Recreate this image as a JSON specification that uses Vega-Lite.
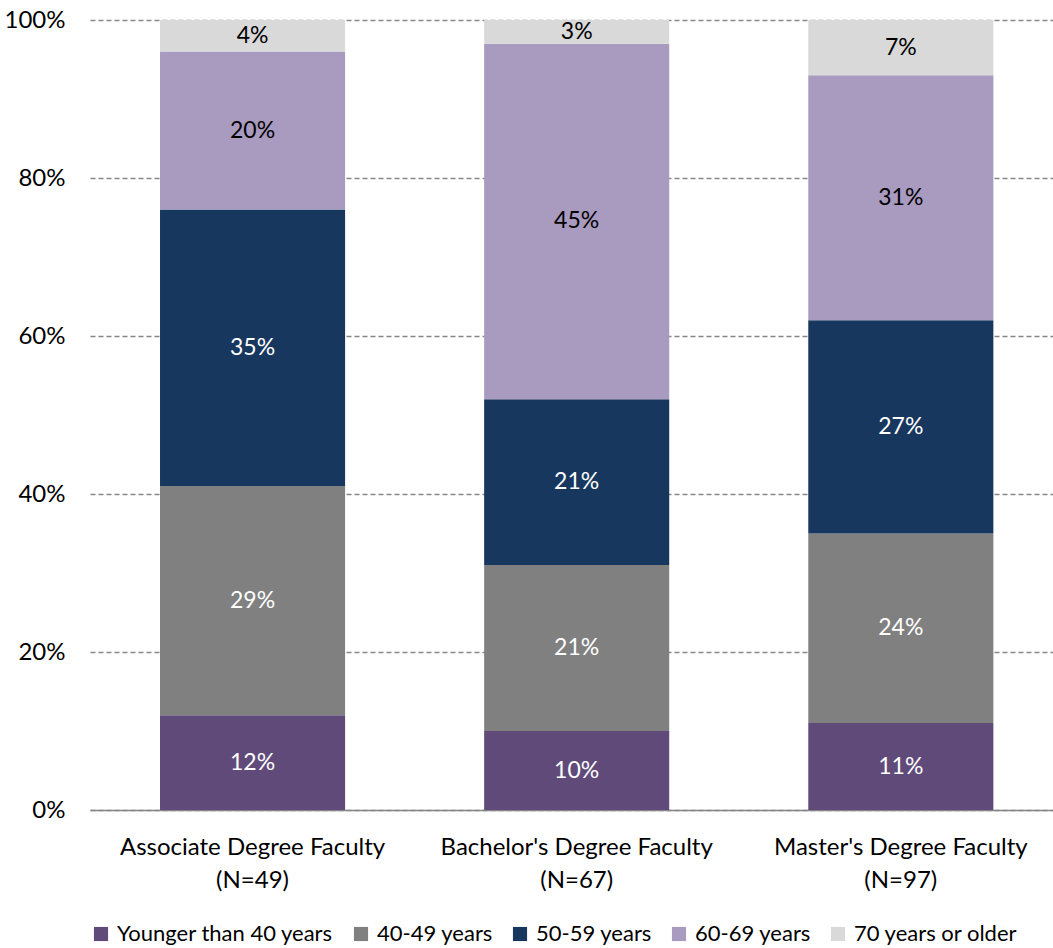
{
  "$schema": "https://vega.github.io/schema/vega-lite/v6.json",
  "width": 963,
  "height": 790,
  "autosize": {"type": "none"},
  "padding": {"left": 90, "top": 20, "right": 0, "bottom": 138},
  "background": "white",
  "config": {"view": {"stroke": null}, "font": "Lato"},
  "data": {
    "values": [
      {"faculty": "Associate Degree Faculty|(N=49)", "age": "Younger than 40 years", "k": 1, "share": 0.12},
      {"faculty": "Associate Degree Faculty|(N=49)", "age": "40-49 years", "k": 2, "share": 0.29},
      {"faculty": "Associate Degree Faculty|(N=49)", "age": "50-59 years", "k": 3, "share": 0.35},
      {"faculty": "Associate Degree Faculty|(N=49)", "age": "60-69 years", "k": 4, "share": 0.20},
      {"faculty": "Associate Degree Faculty|(N=49)", "age": "70 years or older", "k": 5, "share": 0.04},
      {"faculty": "Bachelor's Degree Faculty|(N=67)", "age": "Younger than 40 years", "k": 1, "share": 0.10},
      {"faculty": "Bachelor's Degree Faculty|(N=67)", "age": "40-49 years", "k": 2, "share": 0.21},
      {"faculty": "Bachelor's Degree Faculty|(N=67)", "age": "50-59 years", "k": 3, "share": 0.21},
      {"faculty": "Bachelor's Degree Faculty|(N=67)", "age": "60-69 years", "k": 4, "share": 0.45},
      {"faculty": "Bachelor's Degree Faculty|(N=67)", "age": "70 years or older", "k": 5, "share": 0.03},
      {"faculty": "Master's Degree Faculty|(N=97)", "age": "Younger than 40 years", "k": 1, "share": 0.11},
      {"faculty": "Master's Degree Faculty|(N=97)", "age": "40-49 years", "k": 2, "share": 0.24},
      {"faculty": "Master's Degree Faculty|(N=97)", "age": "50-59 years", "k": 3, "share": 0.27},
      {"faculty": "Master's Degree Faculty|(N=97)", "age": "60-69 years", "k": 4, "share": 0.31},
      {"faculty": "Master's Degree Faculty|(N=97)", "age": "70 years or older", "k": 5, "share": 0.07}
    ]
  },
  "transform": [
    {"stack": "share", "groupby": ["faculty"], "sort": [{"field": "k", "order": "ascending"}], "as": ["y0", "y1"]},
    {"calculate": "(datum.y0 + datum.y1) / 2", "as": "ymid"}
  ],
  "encoding": {
    "x": {
      "field": "faculty",
      "type": "nominal",
      "sort": null,
      "title": null,
      "scale": {"paddingInner": 0.429, "paddingOuter": 0.2, "align": 0.54},
      "axis": {
        "labelExpr": "split(datum.label, '|')",
        "labelAngle": 0,
        "labelFontSize": 24,
        "labelLineHeight": 33,
        "labelPadding": 37,
        "labelBaseline": "middle",
        "labelColor": "#000000",
        "ticks": false,
        "domain": true,
        "domainColor": "#868686",
        "domainWidth": 1.5,
        "labelLimit": 400
      }
    }
  },
  "layer": [
    {
      "mark": {"type": "bar"},
      "encoding": {
        "y": {
          "field": "y0",
          "type": "quantitative",
          "title": null,
          "scale": {"domain": [0, 1]},
          "axis": {
            "values": [0, 0.2, 0.4, 0.6, 0.8, 1],
            "format": ".0%",
            "domain": false,
            "ticks": false,
            "labelPadding": 25,
            "labelFontSize": 24,
            "labelColor": "#000000",
            "grid": true,
            "gridColor": "#868686",
            "gridDash": [5, 3],
            "gridWidth": 1.5
          }
        },
        "y2": {"field": "y1"},
        "color": {
          "field": "age",
          "type": "nominal",
          "scale": {
            "domain": ["Younger than 40 years", "40-49 years", "50-59 years", "60-69 years", "70 years or older"],
            "range": ["#5F4A7A", "#808080", "#17375E", "#A99BC0", "#D9D9D9"]
          },
          "legend": {
            "orient": "bottom",
            "direction": "horizontal",
            "title": null,
            "symbolType": "square",
            "symbolSize": 200,
            "symbolStrokeWidth": 0,
            "labelFont": "Lato",
            "labelFontSize": 22,
            "labelLimit": 400,
            "labelColor": "#000000",
            "columnPadding": 16,
            "symbolOffset": 0,
            "labelOffset": 5,
            "offset": 31
          }
        }
      }
    },
    {
      "mark": {"type": "text", "fontSize": 23, "baseline": "middle"},
      "encoding": {
        "y": {"field": "ymid", "type": "quantitative"},
        "text": {"field": "share", "type": "quantitative", "format": ".0%"},
        "color": {"condition": {"test": "datum.k <= 3", "value": "#FFFFFF"}, "value": "#000000"}
      }
    }
  ]
}
